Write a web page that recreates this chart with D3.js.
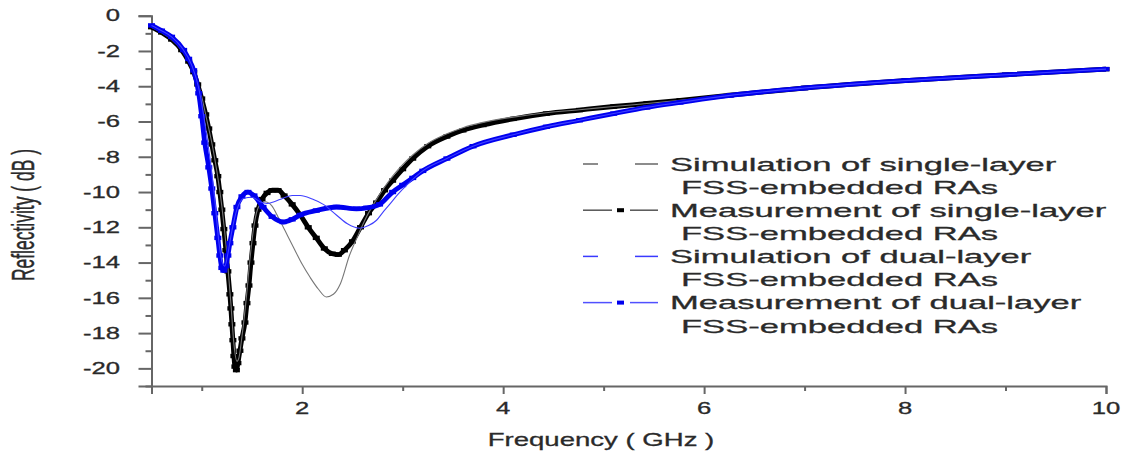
<!DOCTYPE html>
<html>
<head>
<meta charset="utf-8">
<script src="https://cdn.jsdelivr.net/npm/d3@7"></script>
<style>
  html, body { margin: 0; padding: 0; background: #fff; }
  svg { display: block; font-family: "Liberation Sans", Arial, sans-serif; }
</style>
</head>
<body>
<svg id="chart"></svg>
<script>
// [frequency GHz, reflectivity dB]
const simSingle = [
  [0.5, -0.65], [0.6, -0.95], [0.7, -1.35], [0.8, -1.95], [0.9, -2.9], [0.96, -3.8],
  [1.0, -4.6], [1.05, -5.9], [1.1, -7.2], [1.15, -8.8], [1.2, -10.8], [1.25, -13.5],
  [1.29, -16.3], [1.32, -18.6], [1.35, -19.6], [1.37, -19.4], [1.4, -18.2], [1.44, -16.2],
  [1.48, -13.8], [1.52, -11.9], [1.57, -10.8], [1.63, -10.55], [1.7, -10.8], [1.75, -11.3],
  [1.83, -12.2], [1.91, -13.1], [2.0, -14.1], [2.08, -14.85], [2.16, -15.5], [2.24, -15.95],
  [2.31, -15.8], [2.38, -15.2], [2.47, -13.6], [2.56, -12.4], [2.64, -11.4], [2.72, -10.6],
  [2.81, -9.8], [2.9, -9.1], [3.0, -8.45], [3.1, -7.9], [3.25, -7.25], [3.44, -6.7],
  [3.6, -6.35], [3.8, -6.05], [4.1, -5.75], [4.43, -5.5], [4.76, -5.33], [5.1, -5.15],
  [5.43, -4.98], [5.76, -4.8], [6.26, -4.5], [7.0, -4.1], [8.0, -3.68], [9.0, -3.35], [10.0, -3.03]
];
const measSingle = [
  [0.5, -0.65], [0.6, -0.95], [0.7, -1.35], [0.8, -1.95], [0.87, -2.6], [0.92, -3.2],
  [0.96, -3.9], [1.0, -4.7], [1.04, -5.6], [1.07, -6.4], [1.1, -7.3], [1.13, -8.2],
  [1.16, -9.1], [1.18, -10.0], [1.2, -11.0], [1.22, -12.1], [1.24, -13.3], [1.26, -14.5],
  [1.28, -15.8], [1.29, -16.6], [1.3, -17.5], [1.31, -18.4], [1.32, -19.3], [1.33, -19.9],
  [1.345, -20.1], [1.36, -19.7], [1.38, -19.0], [1.4, -18.3], [1.43, -17.4], [1.45, -16.3],
  [1.47, -15.3], [1.49, -14.0], [1.51, -12.9], [1.53, -11.9], [1.56, -11.0], [1.6, -10.4],
  [1.65, -10.05], [1.7, -9.9], [1.76, -9.9], [1.82, -10.2], [1.9, -10.7], [1.98, -11.3],
  [2.06, -12.0], [2.14, -12.6], [2.22, -13.2], [2.3, -13.5], [2.36, -13.55], [2.42, -13.3],
  [2.5, -12.8], [2.58, -12.0], [2.66, -11.2], [2.74, -10.6], [2.82, -9.9], [2.9, -9.35],
  [3.0, -8.7], [3.1, -8.1], [3.25, -7.4], [3.44, -6.85], [3.6, -6.5], [3.8, -6.2],
  [4.1, -5.85], [4.43, -5.55], [4.76, -5.35], [5.1, -5.15], [5.43, -4.98], [5.76, -4.8],
  [6.26, -4.5], [7.0, -4.1], [8.0, -3.68], [9.0, -3.35], [10.0, -3.03]
];
const simDual = [
  [0.5, -0.55], [0.6, -0.85], [0.7, -1.2], [0.8, -1.8], [0.9, -2.8], [0.97, -4.1],
  [1.0, -5.0], [1.05, -6.8], [1.1, -8.9], [1.14, -11.0], [1.17, -12.8], [1.2, -13.9],
  [1.23, -14.2], [1.26, -13.5], [1.3, -12.2], [1.35, -11.0], [1.42, -10.35], [1.5, -10.3],
  [1.58, -10.55], [1.65, -10.65], [1.72, -10.55], [1.81, -10.35], [1.9, -10.2], [1.98, -10.2],
  [2.1, -10.4], [2.21, -10.7], [2.34, -11.3], [2.45, -11.8], [2.57, -12.05], [2.66, -11.9],
  [2.74, -11.6], [2.81, -11.1], [2.87, -10.7], [2.95, -10.15], [3.05, -9.55], [3.2, -8.8],
  [3.44, -8.1], [3.7, -7.4], [4.1, -6.75], [4.43, -6.3], [4.76, -5.93], [5.1, -5.55],
  [5.43, -5.2], [5.76, -4.92], [6.26, -4.52], [7.0, -4.1], [8.0, -3.68], [9.0, -3.35], [10.0, -3.03]
];
const measDual = [
  [0.5, -0.55], [0.6, -0.85], [0.7, -1.2], [0.82, -1.95], [0.87, -2.45], [0.92, -3.1],
  [0.97, -4.4], [1.0, -5.7], [1.03, -7.2], [1.07, -8.6], [1.1, -9.8], [1.13, -11.2],
  [1.16, -12.6], [1.18, -13.6], [1.2, -14.3], [1.22, -14.45], [1.24, -14.2], [1.26, -13.6],
  [1.28, -12.9], [1.31, -12.0], [1.35, -10.85], [1.4, -10.25], [1.46, -10.0], [1.52, -10.2],
  [1.61, -10.85], [1.7, -11.4], [1.81, -11.7], [1.9, -11.55], [1.98, -11.3], [2.14, -11.05],
  [2.34, -10.85], [2.54, -10.95], [2.64, -10.9], [2.77, -10.7], [2.9, -10.0], [3.0, -9.6],
  [3.1, -9.2], [3.2, -8.8], [3.44, -8.1], [3.7, -7.4], [4.1, -6.75], [4.43, -6.3],
  [4.76, -5.93], [5.1, -5.55], [5.43, -5.2], [5.76, -4.92], [6.26, -4.52], [7.0, -4.1],
  [8.0, -3.68], [9.0, -3.35], [10.0, -3.03]
];

const xMajor = [2, 4, 6, 8, 10];
const xMinor = [1, 3, 5, 7, 9];
const yMajor = [0, -2, -4, -6, -8, -10, -12, -14, -16, -18, -20];
const yMinor = [-1, -3, -5, -7, -9, -11, -13, -15, -17, -19, -21];

const legendItems = [
  {label: "Simulation of single-layer", color: "#666", marker: false},
  {label: "Measurement of single-layer", color: "#000", marker: true},
  {label: "Simulation of dual-layer", color: "#3a3aff", marker: false},
  {label: "Measurement of dual-layer", color: "#0000ee", marker: true}
];
const legendSub = "FSS-embedded RAs";

const W = 1131, H = 454;
const svg = d3.select("#chart").attr("width", W).attr("height", H);
svg.append("rect").attr("width", W).attr("height", H).attr("fill", "#fff");

const x = d3.scaleLinear().domain([0.5, 10]).range([151.5, 1106]);
const y = d3.scaleLinear().domain([-21, 0]).range([386, 15.7]);

// widen text horizontally (the figure is stretched), keeping its anchor point
function stretch(sel, k) {
  sel.each(function() {
    const w = this.getComputedTextLength();
    const anchor = this.getAttribute("text-anchor") || "start";
    const x0 = +(this.getAttribute("x") || 0);
    const nw = w * k;
    let xs = x0;
    if (anchor === "end") xs = x0 - nw;
    else if (anchor === "middle") xs = x0 - nw / 2;
    this.setAttribute("x", xs);
    this.setAttribute("text-anchor", "start");
    this.setAttribute("textLength", nw);
    this.setAttribute("lengthAdjust", "spacingAndGlyphs");
  });
}

const axisColor = "#666";
const textColor = "#2a2a2a";

// x axis (ticks only, labels drawn below)
const gx = svg.append("g").attr("transform", `translate(0,${y(-21)})`);
gx.call(d3.axisBottom(x).tickValues(xMajor).tickSize(8).tickFormat(""));
gx.append("g").call(d3.axisBottom(x).tickValues(xMinor).tickSize(5).tickFormat(""))
  .select(".domain").remove();
gx.selectAll(".domain").attr("stroke", axisColor).attr("stroke-width", 2);
gx.selectAll(".tick line").attr("stroke", axisColor).attr("stroke-width", 2);

// y axis
const gy = svg.append("g").attr("transform", `translate(${x(0.5)},0)`);
gy.call(d3.axisLeft(y).tickValues(yMajor).tickSize(13).tickFormat(""));
gy.append("g").call(d3.axisLeft(y).tickValues(yMinor).tickSize(6).tickFormat(""))
  .select(".domain").remove();
gy.selectAll(".domain").attr("stroke", axisColor).attr("stroke-width", 2);
gy.selectAll(".tick line").attr("stroke", axisColor).attr("stroke-width", 2);

const xLabels = svg.append("g").selectAll("text")
  .data(xMajor)
  .enter()
  .append("text")
  .attr("x", d => x(d))
  .attr("y", 414)
  .attr("text-anchor", "middle")
  .attr("fill", textColor).attr("stroke", textColor).attr("stroke-width", 0.3)
  .style("font-size", "16px")
  .text(d => d);
stretch(xLabels, 1.6);

const yLabels = svg.append("g").selectAll("text")
  .data(yMajor)
  .enter()
  .append("text")
  .attr("x", 120)
  .attr("y", d => y(d))
  .attr("dy", "0.36em")
  .attr("text-anchor", "end")
  .attr("fill", textColor).attr("stroke", textColor).attr("stroke-width", 0.3)
  .style("font-size", "16px")
  .text(d => d);
stretch(yLabels, 1.6);

// axis titles
const xTitle = svg.append("text")
  .attr("x", 601).attr("y", 446)
  .attr("text-anchor", "middle")
  .attr("fill", textColor).attr("stroke", textColor).attr("stroke-width", 0.3)
  .style("font-size", "19px")
  .text("Frequency ( GHz )");
stretch(xTitle, 1.45);

svg.append("text")
  .attr("transform", "translate(34,215) rotate(-90) scale(1,1.75)")
  .attr("text-anchor", "middle")
  .attr("fill", textColor).attr("stroke", textColor).attr("stroke-width", 0.25)
  .style("font-size", "17.5px")
  .text("Reflectivity ( dB )");

// curves
const line = d3.line()
  .x(d => x(d[0]))
  .y(d => y(d[1]))
  .curve(d3.curveMonotoneX);

const plot = svg.append("g");

function drawMeas(data, color) {
  plot.append("path")
    .datum(data)
    .attr("fill", "none")
    .attr("stroke", color)
    .attr("stroke-width", 4.8)
    .attr("d", line);
  plot.selectAll(null)
    .data(data)
    .enter()
    .append("rect")
    .attr("x", d => x(d[0]) - 3.5)
    .attr("y", d => y(d[1]) - 2.2)
    .attr("width", 7)
    .attr("height", 4.4)
    .attr("fill", color);
}

function drawSim(data, color) {
  plot.append("path")
    .datum(data)
    .attr("fill", "none")
    .attr("stroke", color)
    .attr("stroke-width", 1.1)
    .attr("d", line);
}

drawMeas(measSingle, "#000");
drawSim(simSingle, "#777");
drawMeas(measDual, "#0000f0");
drawSim(simDual, "#4040ff");

// legend
const legend = svg.append("g");
const rowH = 23.1;
legendItems.forEach((item, i) => {
  const cy = 164 + i * 2 * rowH;
  const dashColor = item.marker ? (item.color === "#000" ? "#555" : "#5050ff") : item.color;
  if (item.marker) {
    legend.append("line").attr("x1", 583).attr("x2", 612).attr("y1", cy).attr("y2", cy)
      .attr("stroke", dashColor).attr("stroke-width", 1.5);
    legend.append("line").attr("x1", 630).attr("x2", 658).attr("y1", cy).attr("y2", cy)
      .attr("stroke", dashColor).attr("stroke-width", 1.5);
    legend.append("rect").attr("x", 617).attr("y", cy - 2).attr("width", 7).attr("height", 4)
      .attr("fill", item.color);
  } else {
    legend.append("line").attr("x1", 583).attr("x2", 598).attr("y1", cy).attr("y2", cy)
      .attr("stroke", dashColor).attr("stroke-width", 1.5);
    legend.append("line").attr("x1", 635).attr("x2", 658).attr("y1", cy).attr("y2", cy)
      .attr("stroke", dashColor).attr("stroke-width", 1.5);
  }
  const t1 = legend.append("text")
    .attr("x", 670).attr("y", cy).attr("dy", "0.36em")
    .attr("fill", textColor).attr("stroke", textColor).attr("stroke-width", 0.3)
    .style("font-size", "19px")
    .text(item.label);
  const t2 = legend.append("text")
    .attr("x", 681).attr("y", cy + rowH).attr("dy", "0.36em")
    .attr("fill", textColor).attr("stroke", textColor).attr("stroke-width", 0.3)
    .style("font-size", "19px")
    .text(legendSub);
  stretch(t1, 1.82);
  stretch(t2, 1.82);
});
</script>
</body>
</html>
